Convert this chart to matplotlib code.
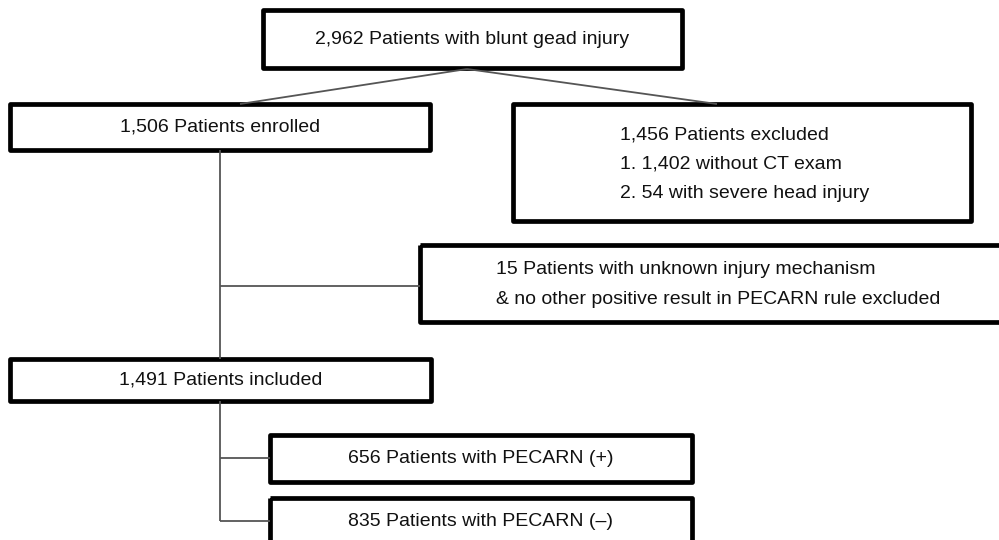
"""Patient flow diagram for the PECARN head-injury cohort."""

import matplotlib.pyplot as plt
from matplotlib.patches import Rectangle

# ─────────────────────────────────────────────────────────────────────────────
# Box texts (counts as printed in the diagram)
# ─────────────────────────────────────────────────────────────────────────────
screened = "2,962 Patients with blunt gead injury"
enrolled = "1,506 Patients enrolled"
excluded_lines = [
    "1,456 Patients excluded",
    "1. 1,402 without CT exam",
    "2. 54 with severe head injury",
]
unknown_lines = [
    "15 Patients with unknown injury mechanism",
    "& no other positive result in PECARN rule excluded",
]
included = "1,491 Patients included"
pecarn_groups = ["656 Patients with PECARN (+)", "835 Patients with PECARN (\u2013)"]

# layout in pixel units (x0, y0, x1, y1), y grows downwards
BOXES = {
    "screened": (263, 10, 682, 68),
    "enrolled": (10, 104, 430, 150),
    "excluded": (513, 104, 971, 221),
    "unknown": (420, 245, 1004, 322),
    "included": (10, 359, 431, 401),
    "pos": (270, 435, 692, 482),
    "neg": (270, 498, 692, 545),
}
FONT = ["Liberation Sans Narrow", "Liberation Sans", "DejaVu Sans"]
FS = 14
BORDER = 3.4
LINK = dict(color="#555555", lw=1.3, solid_capstyle="butt")

fig = plt.figure(figsize=(9.99, 5.40), dpi=100)
ax = fig.add_axes([0, 0, 1, 1])
ax.set_xlim(0, 999)
ax.set_ylim(540, 0)
ax.axis("off")


def box(key):
    x0, y0, x1, y1 = BOXES[key]
    ax.add_patch(Rectangle((x0, y0), x1 - x0, y1 - y0, fill=False,
                           edgecolor="black", lw=BORDER, joinstyle="round"))
    return x0, y0, x1, y1


def centred(key, text):
    x0, y0, x1, y1 = box(key)
    ax.text((x0 + x1) / 2, (y0 + y1) / 2, text, ha="center", va="center",
            fontsize=FS, family=FONT, color="#111111")


centred("screened", screened)
centred("enrolled", enrolled)
centred("included", included)
centred("pos", pecarn_groups[0])
centred("neg", pecarn_groups[1])

box("excluded")
for i, line in enumerate(excluded_lines):
    ax.text(620, 135 + i * 29, line, ha="left", va="center",
            fontsize=FS, family=FONT, color="#111111")

box("unknown")
for i, line in enumerate(unknown_lines):
    ax.text(496, 269 + i * 30, line, ha="left", va="center",
            fontsize=FS, family=FONT, color="#111111")

# connectors
ax.plot([467, 240], [69, 104], **LINK)
ax.plot([467, 717], [69, 104], **LINK)
ax.plot([220, 220], [150, 359], **LINK)
ax.plot([220, 420], [286, 286], **LINK)
ax.plot([220, 220], [401, 521], **LINK)
ax.plot([220, 270], [458, 458], **LINK)
ax.plot([220, 270], [521, 521], **LINK)

fig.savefig("out.png", dpi=100)
